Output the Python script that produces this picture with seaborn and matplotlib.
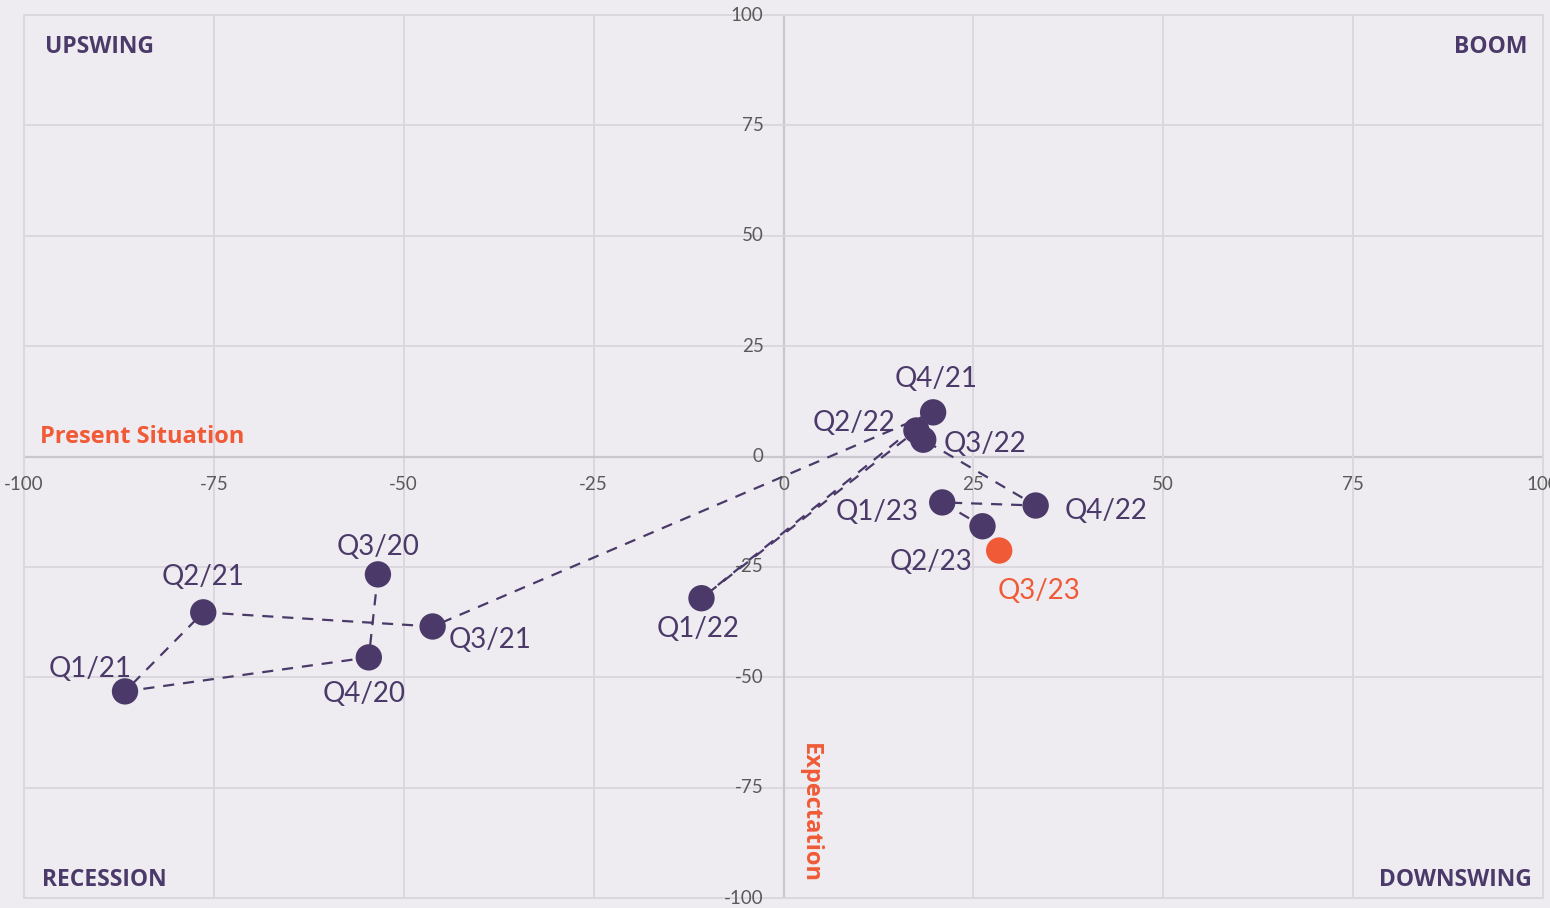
import matplotlib
matplotlib.use("Agg")
import matplotlib.pyplot as plt
import seaborn as sns
import pandas as pd

# ---- data ----
quarters = ["Q3/20", "Q4/20", "Q1/21", "Q2/21", "Q3/21", "Q4/21", "Q1/22",
            "Q2/22", "Q3/22", "Q4/22", "Q1/23", "Q2/23", "Q3/23"]
present_situation = [-53.4, -54.6, -86.7, -76.4, -46.2, 19.7, -10.8,
                     17.5, 18.4, 33.2, 20.9, 26.2, 28.4]
expectation = [-26.7, -45.5, -53.2, -35.3, -38.5, 10.0, -32.1,
               5.9, 3.8, -11.1, -10.4, -15.8, -21.3]
tick_values = [-100, -75, -50, -25, 0, 25, 50, 75, 100]
quadrants = ["UPSWING", "BOOM", "RECESSION", "DOWNSWING"]
x_title = "Present Situation"
y_title = "Expectation"

# label offsets in pixels (dx, dy up)
label_offsets = [(0, 27), (-5, -37), (-35, 22), (0, 35), (57, -14), (3, 33), (-3, -31),
                 (-62, 7), (62, -4), (70, -5), (-65, -10), (-51, -36), (40, -40)]

PURPLE = "#4B3A69"
ORANGE = "#F15A36"
BG = "#EEECF1"
GRID = "#DAD8DE"
ZERO = "#C9C7CD"
TICK = "#595959"

sns.set_theme(style="white")
plt.rcParams["font.family"] = ["Lato", "DejaVu Sans"]
BOLD_FAMILY = ["Open Sans", "DejaVu Sans"]

df = pd.DataFrame({"quarter": quarters, "x": present_situation, "y": expectation})
df["latest"] = [q == quarters[-1] for q in quarters]

fig = plt.figure(figsize=(15.5, 9.08), dpi=100, facecolor=BG)
ax = fig.add_axes([24 / 1550, 1 - 898 / 908, (1543 - 24) / 1550, (898 - 15) / 908])
ax.set_facecolor(BG)
ax.set_xlim(-100, 100)
ax.set_ylim(-100, 100)

# grid
for v in tick_values:
    c = ZERO if v == 0 else GRID
    lw = 1.6 if v == 0 else 1.4
    ax.axvline(v, color=c, lw=lw, zorder=0)
    ax.axhline(v, color=c, lw=lw, zorder=0)
for s in ax.spines.values():
    s.set_color(GRID)
    s.set_linewidth(1.4)
ax.set_xticks([])
ax.set_yticks([])

# path
dfp = df.iloc[:-1]
sns.lineplot(data=dfp, x="x", y="y", sort=False, ax=ax, color=PURPLE,
             lw=1.6, linestyle=(0, (5, 4)), zorder=2, estimator=None)
sns.lineplot(data=df.iloc[-2:], x="x", y="y", sort=False, ax=ax, color=ORANGE,
             lw=1.6, linestyle=(0, (5, 4)), zorder=2, estimator=None)
sns.scatterplot(data=df, x="x", y="y", hue="latest", palette={False: PURPLE, True: ORANGE},
                s=360, linewidth=0, ax=ax, legend=False, zorder=3)
ax.set_xlabel("")
ax.set_ylabel("")

# point labels
px = 0.72
for q, xv, yv, (dx, dy), last in zip(quarters, present_situation, expectation,
                                     label_offsets, df["latest"]):
    ax.annotate(q, (xv, yv), xytext=(dx * px, dy * px), textcoords="offset points",
                ha="center", va="center", fontsize=20,
                color=ORANGE if last else PURPLE, zorder=4)

# tick labels along center axes
for v in tick_values:
    ax.annotate(str(v), (v, 0), xytext=(0, -28 * px), textcoords="offset points",
                ha="center", va="center", fontsize=13.5, color=TICK, annotation_clip=False)
    ax.annotate(str(v), (0, v), xytext=(-20 * px, 0), textcoords="offset points",
                ha="right", va="center", fontsize=13.5, color=TICK, annotation_clip=False)

# axis titles
ax.annotate(x_title, (-100, 0), xytext=(16 * px, 20 * px), textcoords="offset points",
            ha="left", va="center", fontsize=17, fontweight="bold", color=ORANGE,
            family=BOLD_FAMILY)
ax.annotate(y_title, (0, -100), xytext=(26 * px, 85 * px), textcoords="offset points",
            ha="center", va="center", rotation=270, fontsize=17, fontweight="bold",
            color=ORANGE, family=BOLD_FAMILY)

# quadrant labels
qpos = [(0.0138, 0.964, "left"), (0.9895, 0.964, "right"),
        (0.0118, 0.020, "left"), (0.9928, 0.020, "right")]
for name, (qx, qy, ha) in zip(quadrants, qpos):
    ax.text(qx, qy, name, transform=ax.transAxes, ha=ha, va="center",
            fontsize=16.5, fontweight="bold", color=PURPLE, family=BOLD_FAMILY)

fig.savefig("out.png", dpi=100, facecolor=BG)
